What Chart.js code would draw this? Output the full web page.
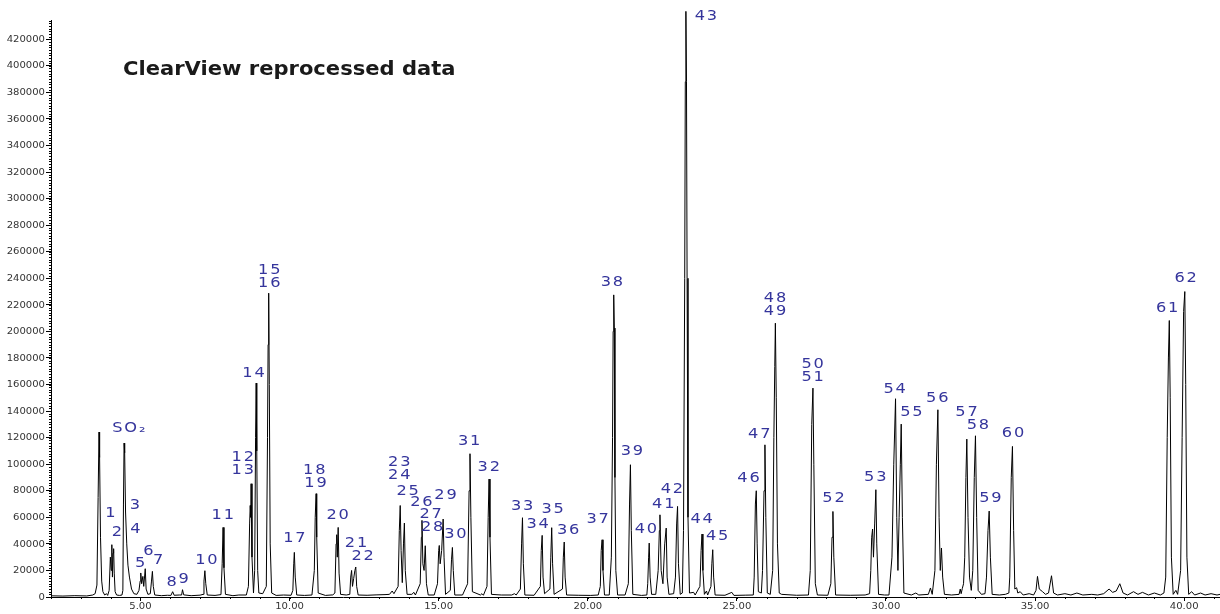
<!DOCTYPE html>
<html>
<head>
<meta charset="utf-8">
<style>
  html, body { margin: 0; padding: 0; background: #fff; overflow: hidden; }
  canvas { display: block; }
</style>
<script src="https://cdn.jsdelivr.net/npm/chart.js@4/dist/chart.umd.min.js"></script>
</head>
<body>
<canvas id="tic" width="1220" height="614"></canvas>
<script>
// Total ion chromatogram, retention time (min) vs abundance
const chartTitle = 'ClearView reprocessed data';
const timeRange = [2.0, 41.2];
const abundanceMax = 434500;
const xTickValues = [5, 10, 15, 20, 25, 30, 35, 40];
const xTickLabels = ['5.00', '10.00', '15.00', '20.00', '25.00', '30.00', '35.00', '40.00'];
const yTickValues = [0, 20000, 40000, 60000, 80000, 100000, 120000, 140000, 160000, 180000, 200000,
  220000, 240000, 260000, 280000, 300000, 320000, 340000, 360000, 380000, 400000, 420000];

// Detector trace: [retention time, abundance]
const trace = [
  [2.00, 900], [2.40, 700], [2.80, 1000], [3.20, 800], [3.40, 1500], [3.48, 2500],
  [3.54, 9000], [3.58, 75000], [3.61, 124200], [3.63, 105000], [3.66, 45000], [3.70, 12000], [3.74, 4000], [3.80, 1500],
  [3.86, 2500], [3.90, 1200],
  [3.95, 5000], [3.99, 30000], [4.02, 20000], [4.04, 39400], [4.06, 15000], [4.08, 33000], [4.10, 36400], [4.12, 18000], [4.15, 4000], [4.20, 1500], [4.30, 1200], [4.38, 1500],
  [4.41, 5000], [4.43, 70000], [4.45, 115900], [4.47, 108600], [4.50, 64000], [4.54, 40000], [4.58, 24000], [4.63, 15000], [4.70, 6000], [4.78, 2500], [4.88, 2000],
  [4.95, 5000], [4.99, 12000], [5.01, 18100], [5.04, 10000], [5.08, 15500], [5.11, 8000], [5.16, 21300], [5.19, 6000], [5.25, 2000], [5.33, 2500], [5.37, 12000], [5.40, 19300], [5.43, 8000], [5.48, 1500],
  [5.70, 1000], [5.90, 1300], [6.02, 1200], [6.08, 4000], [6.13, 1300], [6.30, 1500], [6.38, 1500], [6.41, 5500], [6.45, 1600], [6.70, 1000], [7.00, 1400], [7.10, 2000],
  [7.13, 12000], [7.16, 19800], [7.19, 10000], [7.24, 1500], [7.50, 1200], [7.70, 1800],
  [7.74, 25000], [7.77, 52400], [7.80, 22000], [7.85, 2000], [8.10, 1000], [8.30, 1500], [8.55, 1500],
  [8.62, 8000], [8.66, 55000], [8.68, 68900], [8.70, 60000], [8.71, 85300], [8.74, 30000], [8.79, 3000],
  [8.83, 20000], [8.86, 120000], [8.88, 161100], [8.90, 110000], [8.93, 20000], [8.97, 3000], [9.10, 2500],
  [9.22, 8000], [9.26, 120000], [9.28, 190000], [9.30, 228800], [9.32, 160000], [9.35, 40000], [9.40, 3000], [9.55, 1200], [9.80, 1500], [10.05, 1300],
  [10.11, 5000], [10.14, 25000], [10.16, 33600], [10.19, 15000], [10.24, 1500], [10.50, 1200], [10.75, 1500],
  [10.83, 20000], [10.86, 60000], [10.89, 77800], [10.91, 45000], [10.96, 3000], [11.20, 1200], [11.45, 1600], [11.52, 3000],
  [11.56, 40000], [11.58, 46900], [11.60, 30000], [11.63, 52400], [11.66, 18000], [11.71, 2000], [11.90, 1500], [12.02, 2000],
  [12.05, 15000], [12.08, 20000], [12.11, 8000], [12.15, 14000], [12.19, 20000], [12.22, 22600], [12.25, 8000], [12.30, 1500],
  [12.60, 1300], [12.90, 1600], [13.20, 1800], [13.35, 2000], [13.44, 4500], [13.50, 2500],
  [13.64, 8000], [13.68, 50000], [13.71, 68900], [13.74, 35000], [13.78, 10800], [13.82, 40000], [13.85, 55700], [13.88, 20000], [13.94, 2000], [14.10, 2000], [14.17, 3500], [14.22, 1500],
  [14.38, 10000], [14.42, 45000], [14.44, 57700], [14.47, 25000], [14.51, 20000], [14.55, 38600], [14.59, 10000], [14.65, 1500], [14.85, 1500],
  [14.96, 10000], [15.00, 35000], [15.02, 38800], [15.05, 25000], [15.10, 35000], [15.15, 58700], [15.18, 30000], [15.23, 2000],
  [15.39, 5000], [15.43, 28000], [15.46, 37300], [15.49, 20000], [15.54, 1500], [15.80, 1500],
  [15.97, 10000], [16.02, 80000], [16.05, 107900], [16.08, 60000], [16.13, 4000], [16.40, 1500], [16.45, 2500], [16.50, 1300],
  [16.62, 8000], [16.66, 60000], [16.69, 88800], [16.72, 45000], [16.77, 2000], [17.10, 1500], [17.45, 1500], [17.54, 2500], [17.60, 1500],
  [17.74, 6000], [17.78, 40000], [17.81, 59700], [17.84, 25000], [17.89, 1500], [18.20, 1300],
  [18.41, 8000], [18.44, 35000], [18.47, 46400], [18.50, 15000], [18.55, 2500],
  [18.73, 6000], [18.76, 30000], [18.79, 52200], [18.82, 25000], [18.87, 2000],
  [19.15, 6000], [19.18, 30000], [19.21, 41400], [19.24, 15000], [19.29, 1500], [19.70, 1300], [20.10, 1200], [20.35, 1500],
  [20.42, 8000], [20.45, 35000], [20.48, 43100], [20.51, 20000], [20.56, 1500], [20.72, 1500],
  [20.79, 30000], [20.83, 120000], [20.85, 200000], [20.87, 227500], [20.89, 202500], [20.91, 90000], [20.94, 20000], [21.00, 1500], [21.25, 1500],
  [21.36, 10000], [21.40, 70000], [21.43, 99600], [21.46, 50000], [21.51, 2000], [21.80, 1200], [21.98, 1500],
  [22.01, 10000], [22.04, 30000], [22.06, 40600], [22.09, 15000], [22.14, 2000], [22.28, 2000],
  [22.36, 20000], [22.40, 50000], [22.42, 61900], [22.46, 20000], [22.52, 10000], [22.58, 40000], [22.63, 51900], [22.66, 15000], [22.72, 2000], [22.88, 2500],
  [22.94, 15000], [22.98, 55000], [23.01, 68200], [23.04, 25000], [23.10, 2000], [23.17, 3000],
  [23.21, 50000], [23.25, 240000], [23.27, 388000], [23.29, 441000], [23.31, 388000], [23.33, 240000], [23.36, 60000], [23.41, 3000], [23.55, 3500], [23.60, 1500],
  [23.76, 8000], [23.80, 35000], [23.83, 47400], [23.86, 20000], [23.91, 2000], [23.98, 4500], [24.02, 1500],
  [24.13, 8000], [24.16, 25000], [24.19, 35600], [24.22, 15000], [24.27, 1500], [24.60, 1300], [24.83, 3500], [24.90, 1200], [25.30, 1400], [25.55, 1500],
  [25.58, 15000], [25.62, 70000], [25.65, 80000], [25.68, 40000], [25.72, 4000], [25.82, 3000],
  [25.86, 20000], [25.91, 80000], [25.94, 114600], [25.97, 60000], [26.02, 3000], [26.12, 2000],
  [26.20, 20000], [26.24, 120000], [26.27, 173500], [26.29, 206200], [26.32, 150000], [26.36, 40000], [26.42, 3000], [26.50, 2000], [27.00, 1300], [27.40, 1500],
  [27.46, 20000], [27.51, 130000], [27.55, 157300], [27.58, 100000], [27.63, 10000], [27.70, 1500], [28.05, 1300],
  [28.15, 10000], [28.19, 45000], [28.22, 64400], [28.25, 30000], [28.31, 1500], [28.80, 1300], [29.30, 1500], [29.45, 2500],
  [29.49, 20000], [29.52, 45000], [29.55, 51200], [29.58, 30000], [29.62, 55000], [29.66, 80800], [29.69, 40000], [29.75, 2000], [29.95, 1500], [30.10, 1500],
  [30.20, 30000], [30.26, 100000], [30.32, 149300], [30.36, 60000], [30.40, 20000], [30.44, 60000], [30.48, 100000], [30.51, 130200], [30.55, 60000], [30.60, 3000],
  [30.85, 1500], [31.00, 3000], [31.10, 1500], [31.42, 2000], [31.49, 6800], [31.55, 2000],
  [31.64, 20000], [31.69, 100000], [31.74, 141000], [31.78, 60000], [31.82, 20000], [31.86, 36900], [31.90, 15000], [31.96, 2000],
  [32.20, 1500], [32.45, 2000], [32.49, 6000], [32.52, 2500], [32.56, 6500], [32.60, 10000],
  [32.64, 30000], [32.68, 90000], [32.71, 118900], [32.75, 60000], [32.80, 15000], [32.86, 5000],
  [32.91, 20000], [32.96, 90000], [33.00, 121400], [33.04, 60000], [33.09, 5000], [33.20, 2000], [33.32, 2500],
  [33.37, 15000], [33.42, 50000], [33.46, 64700], [33.50, 30000], [33.56, 2000], [33.80, 1500], [34.00, 2000], [34.12, 3000],
  [34.15, 15000], [34.20, 90000], [34.24, 113400], [34.28, 50000], [34.32, 6000], [34.38, 7000], [34.42, 3000], [34.50, 4000], [34.60, 1500], [34.80, 2500], [34.95, 1500],
  [35.03, 5000], [35.08, 15500], [35.14, 6000], [35.25, 4000], [35.35, 2000], [35.45, 3000], [35.55, 16000], [35.62, 3000], [35.75, 1500],
  [36.00, 2500], [36.20, 1500], [36.40, 3000], [36.60, 1500], [36.90, 2000], [37.10, 1500], [37.30, 2500], [37.48, 6000], [37.60, 3500], [37.72, 4500], [37.84, 10000], [37.95, 3000],
  [38.10, 1500], [38.30, 4000], [38.45, 2000], [38.60, 3500], [38.80, 1500], [39.00, 3000], [39.20, 1500], [39.32, 3000],
  [39.38, 15000], [39.43, 120000], [39.47, 180000], [39.50, 208200], [39.53, 150000], [39.57, 30000], [39.63, 2000], [39.72, 5000], [39.78, 2000],
  [39.88, 20000], [39.93, 120000], [39.98, 215000], [40.02, 230000], [40.05, 160000], [40.09, 30000], [40.15, 2000], [40.25, 4000], [40.35, 1500],
  [40.55, 3000], [40.70, 1500], [40.90, 2500], [41.10, 1500], [41.20, 2000]
];

// Peak identifications and where their numbers sit
const peakNames = ['SO₂', '1', '2', '3', '4', '5', '6', '7', '8', '9', '10', '11', '12', '13', '14', '15', '16',
  '17', '18', '19', '20', '21', '22', '23', '24', '25', '26', '27', '28', '29', '30', '31', '32', '33', '34',
  '35', '36', '37', '38', '39', '40', '41', '42', '43', '44', '45', '46', '47', '48', '49', '50', '51', '52',
  '53', '54', '55', '56', '57', '58', '59', '60', '61', '62'];
const peakLabelTime = [4.61, 3.99, 4.21, 4.81, 4.83, 4.99, 5.27, 5.59, 6.05, 6.45, 7.21, 7.76, 8.43, 8.43, 8.79, 9.32, 9.32,
  10.16, 10.83, 10.87, 11.61, 12.23, 12.45, 13.68, 13.68, 13.96, 14.42, 14.73, 14.78, 15.23, 15.56, 16.02, 16.68, 17.80, 18.32,
  18.82, 19.34, 20.33, 20.81, 21.48, 21.95, 22.53, 22.82, 23.96, 23.82, 24.34, 25.39, 25.75, 26.28, 26.28, 27.54, 27.54, 28.24,
  29.64, 30.29, 30.85, 31.72, 32.70, 33.08, 33.50, 34.26, 39.43, 40.05];
const peakLabelAbundance = [127200, 63200, 48600, 68900, 50900, 25100, 33900, 27300, 11000, 13500, 27300, 61700, 105100, 95300, 168100, 245800, 236300,
  43900, 95300, 85800, 61700, 40600, 30600, 101300, 91300, 79500, 70800, 62200, 52400, 76800, 47400, 116900, 97300, 68200, 54600,
  65900, 49900, 58400, 236800, 109600, 50700, 69500, 80800, 437300, 58200, 45200, 89300, 122700, 225100, 215000, 175400, 165300, 73800,
  90000, 156600, 138900, 149800, 138900, 129500, 74000, 122900, 217200, 239800];

const LABEL_BLUE = '#35359c';
const FONT_FAMILY = "'DejaVu Sans', Verdana, sans-serif";

// Text drawn slightly widened, the way the instrument software renders it
function wideText(ctx, text, x, y, align, sx, spacing) {
  ctx.save();
  ctx.translate(x, y);
  ctx.scale(sx, 1);
  ctx.letterSpacing = spacing + 'px';
  ctx.textAlign = align;
  const shift = align === 'center' ? spacing / 2 : (align === 'right' ? spacing : 0);
  ctx.fillText(text, shift, 0);
  ctx.restore();
}

// Axis tick labels, minor tick marks and the chart heading
const axisDecor = {
  id: 'axisDecor',
  afterDraw(chart) {
    const { ctx, scales: { x, y }, chartArea } = chart;
    ctx.save();
    ctx.strokeStyle = '#000';
    ctx.lineWidth = 1;
    ctx.beginPath();
    for (let v = 0; v <= abundanceMax; v += 2000) {
      const py = Math.round(y.getPixelForValue(v)) + 0.5;
      ctx.moveTo(chartArea.left - 2, py);
      ctx.lineTo(chartArea.left, py);
    }
    for (let t = Math.ceil(timeRange[0]); t <= timeRange[1]; t += 1) {
      const px = Math.round(x.getPixelForValue(t)) + 0.5;
      ctx.moveTo(px, chartArea.bottom);
      ctx.lineTo(px, chartArea.bottom + 2);
    }
    ctx.stroke();

    ctx.fillStyle = '#333';
    ctx.font = '8.4px ' + FONT_FAMILY;
    ctx.textBaseline = 'middle';
    yTickValues.forEach(v => {
      wideText(ctx, String(v), chartArea.left - 6, y.getPixelForValue(v) + 0.5, 'right', 1.2, 0);
    });
    xTickValues.forEach((v, i) => {
      wideText(ctx, xTickLabels[i], x.getPixelForValue(v), chartArea.bottom + 9.5, 'center', 1.2, 0);
    });

    ctx.fillStyle = '#1a1a1a';
    ctx.font = 'bold 19.5px ' + FONT_FAMILY;
    ctx.textBaseline = 'alphabetic';
    wideText(ctx, chartTitle, 123, 75, 'left', 1.08, 0);
    ctx.restore();
  }
};

// Peak numbers placed in data coordinates
const peakTags = {
  id: 'peakTags',
  afterDatasetsDraw(chart) {
    const { ctx, scales: { x, y } } = chart;
    ctx.save();
    ctx.fillStyle = LABEL_BLUE;
    ctx.font = '13.5px ' + FONT_FAMILY;
    ctx.textBaseline = 'middle';
    peakNames.forEach((name, i) => {
      wideText(ctx, name, x.getPixelForValue(peakLabelTime[i]), y.getPixelForValue(peakLabelAbundance[i]), 'center', 1.2, 1.5);
    });
    ctx.restore();
  }
};

new Chart(document.getElementById('tic'), {
  type: 'line',
  data: {
    datasets: [{
      data: trace.map(([t, a]) => ({ x: t, y: a })),
      borderColor: '#000',
      borderWidth: 1,
      pointRadius: 0,
      tension: 0,
      clip: false
    }]
  },
  options: {
    responsive: false,
    animation: false,
    devicePixelRatio: 1,
    layout: { padding: { top: 20, right: 0, left: 0, bottom: 0 } },
    plugins: { legend: { display: false }, tooltip: { enabled: false }, title: { display: false } },
    scales: {
      x: {
        type: 'linear',
        min: timeRange[0],
        max: timeRange[1],
        afterBuildTicks: s => { s.ticks = xTickValues.map(v => ({ value: v })); },
        afterFit: s => { s.height = 17; },
        border: { display: true, color: '#000', width: 1 },
        grid: { display: true, drawOnChartArea: false, drawTicks: true, tickLength: 4, color: '#000' },
        ticks: { display: false }
      },
      y: {
        type: 'linear',
        min: 0,
        max: abundanceMax,
        afterBuildTicks: s => { s.ticks = yTickValues.map(v => ({ value: v })); },
        afterFit: s => { s.width = 51; },
        border: { display: true, color: '#000', width: 1 },
        grid: { display: true, drawOnChartArea: false, drawTicks: true, tickLength: 5, color: '#000' },
        ticks: { display: false }
      }
    }
  },
  plugins: [axisDecor, peakTags]
});
</script>
</body>
</html>
